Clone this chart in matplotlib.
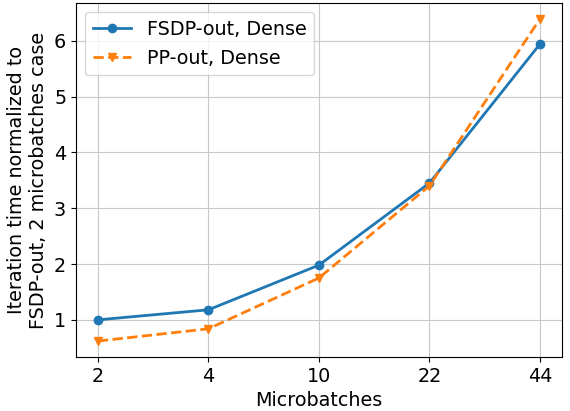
import matplotlib
matplotlib.use('Agg')
import matplotlib.pyplot as plt
import numpy as np

microbatches = ['2', '4', '10', '22', '44']
fsdp_dense = [1.0, 1.18, 1.98, 3.45, 5.94]
pp_dense = [0.62, 0.84, 1.75, 3.40, 6.39]

plt.rcParams['font.size'] = 13.8

fig, ax = plt.subplots(figsize=(5.7, 4.11), dpi=100)
x = np.arange(len(microbatches))
ax.plot(x, fsdp_dense, marker='o', linestyle='-', linewidth=2, markersize=6,
        color='#1f77b4', label='FSDP-out, Dense')
ax.plot(x, pp_dense, marker='v', linestyle='--', linewidth=2, markersize=6,
        color='#ff7f0e', label='PP-out, Dense')

ax.set_xticks(x)
ax.set_xticklabels(microbatches)
ax.set_xlabel('Microbatches')
ax.set_ylabel('Iteration time normalized to\nFSDP-out, 2 microbatches case')
ax.grid(True, color='#c8c8c8')
ax.legend(loc='upper left')

fig.subplots_adjust(left=0.133, right=0.986, top=0.993, bottom=0.131)
fig.savefig('out.png')
